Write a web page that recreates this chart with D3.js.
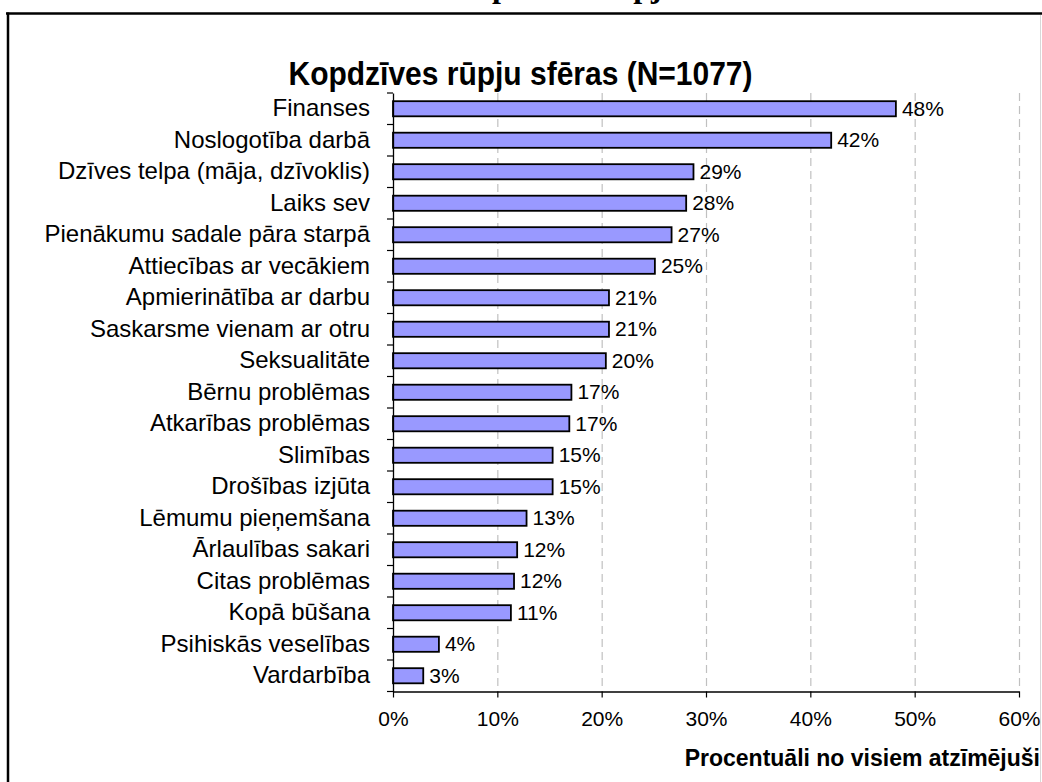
<!DOCTYPE html>
<html><head><meta charset="utf-8">
<script src="https://cdn.jsdelivr.net/npm/d3@7"></script>
<style>body{margin:0;background:#fff;}svg{display:block;}</style>
</head><body>
<script>
const categories = ["Finanses","Noslogotība darbā","Dzīves telpa (māja, dzīvoklis)","Laiks sev","Pienākumu sadale pāra starpā","Attiecības ar vecākiem","Apmierinātība ar darbu","Saskarsme vienam ar otru","Seksualitāte","Bērnu problēmas","Atkarības problēmas","Slimības","Drošības izjūta","Lēmumu pieņemšana","Ārlaulības sakari","Citas problēmas","Kopā būšana","Psihiskās veselības","Vardarbība"];
const values = [48.2,42.0,28.8,28.1,26.7,25.1,20.7,20.7,20.4,17.1,16.9,15.3,15.3,12.8,11.9,11.6,11.3,4.4,2.9];
const valueLabels = ["48%","42%","29%","28%","27%","25%","21%","21%","20%","17%","17%","15%","15%","13%","12%","12%","11%","4%","3%"];
const xTicks = [0,10,20,30,40,50,60];
const title = "Kopdzīves rūpju sfēras (N=1077)";
const cutTitle = "Kopdzīves rūpju sfēras";
const xTitle = "Procentuāli no visiem atzīmējuši";

(function () {
const W = 1042, H = 782;
const svg = d3.select("body").append("svg").attr("width", W).attr("height", H);
const sans = "'Liberation Sans', Arial, sans-serif";

// heading of the page above the chart, cut off at the top edge as in the reference
svg.append("text").attr("x", 451).attr("y", -3)
  .attr("font-family", "'Liberation Serif', 'Times New Roman', serif")
  .attr("font-weight", "bold").attr("font-size", 32).text(cutTitle);

// frame
svg.append("rect").attr("x", 0).attr("y", 14).attr("width", W).attr("height", H).attr("fill", "#fff");
svg.append("line").attr("x1", 6).attr("x2", W).attr("y1", 13.5).attr("y2", 13.5).attr("stroke", "#000").attr("stroke-width", 2.5);
svg.append("line").attr("x1", 8).attr("x2", 8).attr("y1", 12.5).attr("y2", H).attr("stroke", "#000").attr("stroke-width", 2.5);
svg.append("line").attr("x1", 1040.5).attr("x2", 1040.5).attr("y1", 15).attr("y2", H).attr("stroke", "#d8d8d8").attr("stroke-width", 1);

// title
svg.append("text").attr("transform", "translate(520.5,85) scale(1,1.1)").attr("text-anchor", "middle")
  .attr("font-family", sans).attr("font-weight", "bold").attr("font-size", 30).attr("fill", "#000").text(title);

const pLeft = 393, pRight = 1019, pTop = 93, pBottom = 691.5;
const x = d3.scaleLinear().domain([0, 60]).range([pLeft, pRight]);
const y = d3.scaleBand().domain(categories).range([pTop, pBottom]).paddingInner(0.52).paddingOuter(0.26);
const yb = d3.scaleBand().domain(categories).range([pTop, pBottom]);

// gridlines
svg.append("g").selectAll("line").data(xTicks.filter(d => d > 0)).join("line")
  .attr("x1", d => x(d) + 0.5).attr("x2", d => x(d) + 0.5)
  .attr("y1", pTop).attr("y2", pBottom)
  .attr("stroke", "#c0c0c0").attr("stroke-width", 1.2).attr("stroke-dasharray", "8,5");

// bars
svg.append("g").selectAll("rect").data(categories).join("rect")
  .attr("x", pLeft).attr("y", (d) => y(d))
  .attr("width", (d, i) => x(values[i]) - pLeft).attr("height", y.bandwidth())
  .attr("fill", "#9999ff").attr("stroke", "#000").attr("stroke-width", 1.8);

// value labels
svg.append("g").selectAll("text").data(categories).join("text")
  .attr("x", (d, i) => x(values[i]) + 6).attr("y", d => yb(d) + yb.bandwidth() / 2)
  .attr("dy", "0.34em").attr("font-family", sans).attr("font-size", 21).attr("fill", "#000")
  .text((d, i) => valueLabels[i]);

// y axis
const yAxis = d3.axisLeft(yb).tickSize(0).tickPadding(23);
const gy = svg.append("g").attr("transform", `translate(${pLeft},0)`).call(yAxis);
gy.select(".domain").attr("stroke", "#000").attr("stroke-width", 1.3);
gy.selectAll("text").attr("font-family", sans).attr("font-size", 24).attr("fill", "#000");
// category boundary ticks
svg.append("g").selectAll("line").data(d3.range(categories.length + 1)).join("line")
  .attr("x1", pLeft - 6).attr("x2", pLeft)
  .attr("y1", i => pTop + i * yb.step()).attr("y2", i => pTop + i * yb.step())
  .attr("stroke", "#000").attr("stroke-width", 1.2);

// x axis
const xAxis = d3.axisBottom(x).tickValues(xTicks).tickFormat(d => d + "%").tickSize(6).tickSizeOuter(0).tickPadding(14);
const gx = svg.append("g").attr("transform", `translate(0,${pBottom})`).call(xAxis);
gx.select(".domain").attr("stroke", "#000").attr("stroke-width", 1.3);
gx.selectAll(".tick line").attr("stroke", "#000").attr("stroke-width", 1.2);
gx.selectAll("text").attr("font-family", sans).attr("font-size", 21).attr("fill", "#000");

// x title
svg.append("text").attr("x", 1040).attr("y", 766).attr("text-anchor", "end")
  .attr("font-family", sans).attr("font-weight", "bold").attr("font-size", 23).attr("fill", "#000").text(xTitle);
})();
</script>
</body></html>
